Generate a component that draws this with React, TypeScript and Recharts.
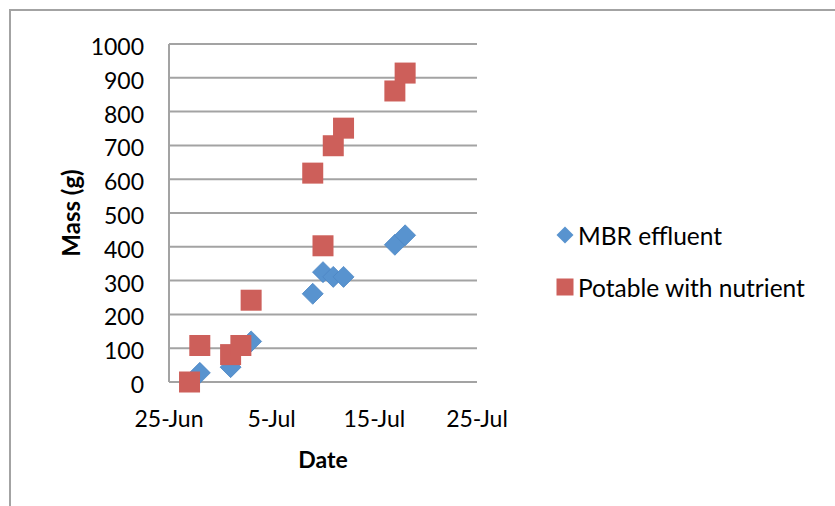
import React from 'react';
import { ScatterChart, Scatter, XAxis, YAxis, CartesianGrid, Legend } from 'recharts';

// Axis ticks
const xTickLabels = ['25-Jun', '5-Jul', '15-Jul', '25-Jul'];
const yTicks = [0, 100, 200, 300, 400, 500, 600, 700, 800, 900, 1000];

// MBR effluent series
const mbrDates = ['28-Jun', '1-Jul', '3-Jul', '9-Jul', '10-Jul', '11-Jul', '12-Jul', '17-Jul', '18-Jul'];
const mbrMass = [27, 44, 120, 261, 325, 311, 311, 406, 434];

// Potable with nutrient series
const potableDates = ['27-Jun', '28-Jun', '1-Jul', '2-Jul', '3-Jul', '9-Jul', '10-Jul', '11-Jul', '12-Jul', '17-Jul', '18-Jul'];
const potableMass = [0, 108, 81, 108, 242, 618, 403, 699, 751, 861, 914];

const FONT = 'Lato, "Liberation Sans", sans-serif';
const GRID = '#A3A3A3';
const BLUE = '#5893CF';
const RED = '#CD5F5A';

// days counted from 25-Jun
const MONTH_OFFSET: Record<string, number> = { Jun: -25, Jul: 5 };
const dayIndex = (label: string) => {
  const [d, m] = label.split('-');
  return Number(d) + MONTH_OFFSET[m];
};
const xTicks = xTickLabels.map(dayIndex);
const formatDay = (v: number) => xTickLabels.find((l) => dayIndex(l) === v) ?? '';

const toPoints = (dates: string[], mass: number[]) =>
  dates.map((d, i) => ({ day: dayIndex(d), mass: mass[i] }));

const mbrData = toPoints(mbrDates, mbrMass);
const potableData = toPoints(potableDates, potableMass);

const DiamondMark = (props: any) => {
  const { cx, cy } = props;
  const r = 10.5;
  return (
    <polygon
      points={`${cx},${cy - r} ${cx + r},${cy} ${cx},${cy + r} ${cx - r},${cy}`}
      fill={BLUE}
      stroke="#4C86C4"
      strokeWidth={0.8}
    />
  );
};

const SquareMark = (props: any) => {
  const { cx, cy } = props;
  const s = 21;
  return <rect x={cx - s / 2} y={cy - s / 2} width={s} height={s} fill={RED} />;
};

const XTick = (props: any) => {
  const { x, y, payload } = props;
  return (
    <text x={x} y={y + 45} textAnchor="middle" fontFamily={FONT} fontSize={23} fill="#000">
      {formatDay(payload.value)}
    </text>
  );
};

const YTick = (props: any) => {
  const { x, y, payload } = props;
  return (
    <text x={x - 25} y={y + 11} textAnchor="end" fontFamily={FONT} fontSize={23} fill="#000">
      {payload.value}
    </text>
  );
};

const XTitle = (props: any) => {
  const vb = props.viewBox;
  return (
    <text
      x={vb.x + vb.width / 2}
      y={vb.y + 86}
      textAnchor="middle"
      fontFamily={FONT}
      fontWeight="bold"
      fontSize={23}
      fill="#000"
    >
      Date
    </text>
  );
};

const YTitle = (props: any) => {
  const vb = props.viewBox;
  const cx = 80;
  const cy = vb.y + vb.height / 2;
  return (
    <text
      x={cx}
      y={cy}
      transform={`rotate(-90, ${cx}, ${cy})`}
      textAnchor="middle"
      fontFamily={FONT}
      fontWeight="bold"
      fontSize={24}
      fill="#000"
    >
      Mass (g)
    </text>
  );
};

const LegendContent = (props: any) => {
  const { payload = [] } = props;
  return (
    <div style={{ fontFamily: FONT, fontSize: 24.5, color: '#000' }}>
      {payload.map((entry: any) => (
        <div key={entry.value} style={{ display: 'flex', alignItems: 'center', height: 52 }}>
          <svg width={18} height={18} style={{ flex: 'none' }}>
            {entry.type === 'diamond' ? (
              <polygon points="9,0.5 17.5,9 9,17.5 0.5,9" fill={BLUE} />
            ) : (
              <rect x={0.5} y={0.5} width={17} height={17} fill={RED} />
            )}
          </svg>
          <span style={{ marginLeft: 4, whiteSpace: 'nowrap' }}>{entry.value}</span>
        </div>
      ))}
    </div>
  );
};

export default function App() {
  return (
    <div style={{ position: 'absolute', left: 0, top: 0, width: 835, height: 506 }}>
      <div
        style={{
          position: 'absolute',
          left: 9,
          top: 9,
          width: 826,
          height: 497,
          boxSizing: 'border-box',
          borderLeft: `2px solid ${GRID}`,
          borderTop: `2px solid ${GRID}`,
        }}
      />
      <ScatterChart
        width={835}
        height={506}
        margin={{ top: 44, right: 358, bottom: 0, left: 0 }}
        style={{ position: 'absolute', left: 0, top: 0 }}
      >
        <CartesianGrid vertical={false} stroke={GRID} strokeWidth={2} />
        <XAxis
          type="number"
          dataKey="day"
          domain={[0, 30]}
          ticks={xTicks}
          interval={0}
          height={124}
          tickLine={false}
          tickSize={0}
          tickMargin={0}
          axisLine={{ stroke: GRID, strokeWidth: 2 }}
          tick={<XTick />}
          label={{ content: <XTitle /> }}
        />
        <YAxis
          type="number"
          dataKey="mass"
          domain={[0, 1000]}
          ticks={yTicks}
          interval={0}
          width={169}
          tickLine={false}
          tickSize={0}
          tickMargin={0}
          axisLine={{ stroke: GRID, strokeWidth: 2 }}
          tick={<YTick />}
          label={{ content: <YTitle /> }}
        />
        <Legend
          layout="vertical"
          align="center"
          verticalAlign="middle"
          content={<LegendContent />}
          wrapperStyle={{ left: 556, top: 209, width: 279 }}
        />
        <Scatter
          name="MBR effluent"
          data={mbrData}
          legendType="diamond"
          fill={BLUE}
          shape={<DiamondMark />}
          isAnimationActive={false}
        />
        <Scatter
          name="Potable with nutrient"
          data={potableData}
          legendType="square"
          fill={RED}
          shape={<SquareMark />}
          isAnimationActive={false}
        />
      </ScatterChart>
    </div>
  );
}
